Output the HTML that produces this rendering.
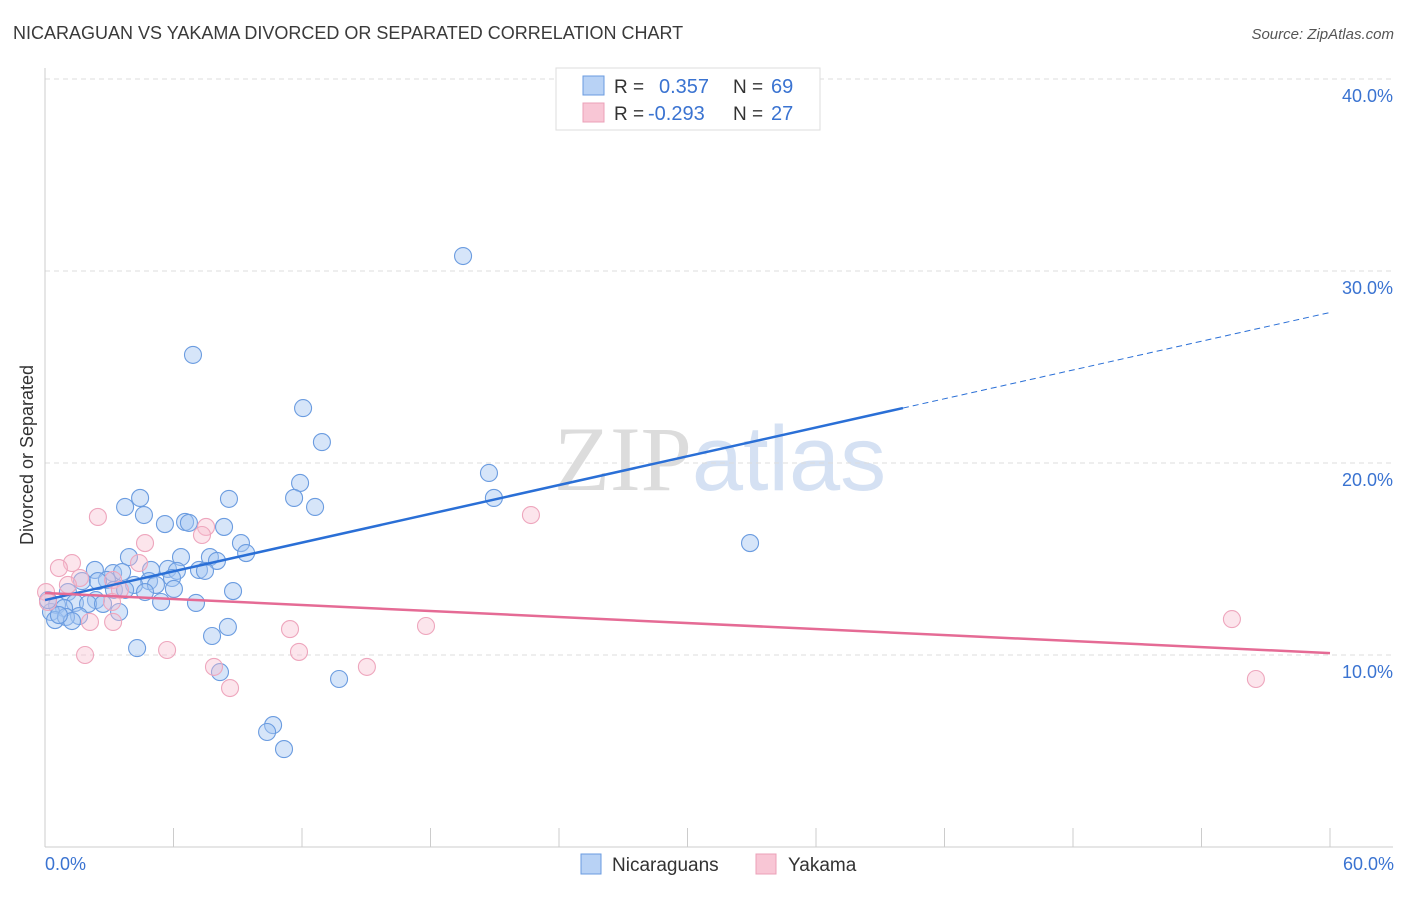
<!DOCTYPE html>
<html><head><meta charset="utf-8"><style>
body{margin:0;background:#fff;font-family:"Liberation Sans",sans-serif;}
svg text{font-family:"Liberation Sans",sans-serif;}
</style></head><body>
<svg id="chart" width="1406" height="892" xmlns="http://www.w3.org/2000/svg">
<text x="13" y="39" font-size="18" fill="#3a3a3a">NICARAGUAN VS YAKAMA DIVORCED OR SEPARATED CORRELATION CHART</text>
<text x="1394" y="39" font-size="15" fill="#555" text-anchor="end" font-style="italic">Source: ZipAtlas.com</text>
<text x="720" y="490" font-size="92" text-anchor="middle" fill="#e4e4e4"><tspan font-family="Liberation Serif" fill="#dcdcdc">ZIP</tspan><tspan fill="#d5e1f3">atlas</tspan></text>
<g id="grid"></g>
<g id="axes"></g>
<g id="pts"></g>
<g id="trend"></g>
<text transform="translate(33,455) rotate(-90)" font-size="18" fill="#333" text-anchor="middle">Divorced or Separated</text>
<text x="45" y="870" font-size="18" fill="#3a73d1">0.0%</text>
<text x="1394" y="870" font-size="18" fill="#3a73d1" text-anchor="end">60.0%</text>
<g>
<rect x="556" y="68" width="264" height="62" fill="#fff" stroke="#ddd"/>
<rect x="583" y="76" width="21" height="19" fill="#b8d2f5" stroke="#6a9be0"/>
<rect x="583" y="103" width="21" height="19" fill="#f8c6d5" stroke="#eba0b8"/>
<text x="614" y="93" font-size="19" fill="#333">R =</text>
<text x="659" y="93" font-size="20" fill="#3a73d1">0.357</text>
<text x="733" y="93" font-size="19" fill="#333">N =</text>
<text x="771" y="93" font-size="20" fill="#3a73d1">69</text>
<text x="614" y="120" font-size="19" fill="#333">R =</text>
<text x="648" y="120" font-size="20" fill="#3a73d1">-0.293</text>
<text x="733" y="120" font-size="19" fill="#333">N =</text>
<text x="771" y="120" font-size="20" fill="#3a73d1">27</text>
</g>
<g>
<rect x="581" y="854" width="20" height="20" fill="#b8d2f5" stroke="#6a9be0"/>
<text x="612" y="871" font-size="19" fill="#333">Nicaraguans</text>
<rect x="756" y="854" width="20" height="20" fill="#f8c6d5" stroke="#eba0b8"/>
<text x="788" y="871" font-size="19" fill="#333">Yakama</text>
</g>
</svg>
<script>
const blueX=[19.52,6.91,12.05,12.93,20.73,11.91,4.44,8.59,11.63,3.74,12.61,20.96,4.62,6.54,6.72,5.60,8.36,9.15,32.92,3.92,6.35,7.70,9.39,8.03,2.33,3.18,3.60,5.74,6.16,7.19,7.47,4.95,2.89,4.86,5.93,1.73,2.47,4.16,5.18,4.67,6.02,8.78,1.07,3.22,2.38,1.40,2.01,5.42,7.05,0.56,0.89,2.71,3.46,0.28,1.59,0.47,0.98,1.26,8.54,7.80,4.30,8.17,13.73,10.65,10.37,11.16,0.14,0.65,3.74];
const blueY=[30.78,25.63,22.86,21.09,19.48,18.96,18.18,18.13,18.18,17.71,17.71,18.18,17.29,16.93,16.88,16.82,16.67,15.83,15.83,15.10,15.10,15.10,15.31,14.90,14.43,14.27,14.32,14.48,14.38,14.43,14.38,14.43,13.91,13.85,14.01,13.85,13.85,13.65,13.65,13.28,13.44,13.33,13.28,13.39,12.86,12.71,12.66,12.76,12.71,12.60,12.45,12.66,12.24,12.24,12.03,11.82,11.98,11.77,11.46,10.99,10.36,9.11,8.75,6.35,5.99,5.10,12.86,12.08,13.39];
const pinkX=[2.47,7.52,7.33,22.69,4.67,1.26,0.65,4.39,1.63,1.07,0.05,3.18,3.50,0.14,3.13,2.10,3.18,11.44,17.79,11.86,1.87,5.70,7.89,15.03,8.64,55.42,56.54];
const pinkY=[17.19,16.67,16.25,17.29,15.83,14.79,14.53,14.79,14.01,13.65,13.28,13.91,13.39,12.76,12.76,11.72,11.72,11.35,11.51,10.16,10.00,10.26,9.38,9.38,8.28,11.87,8.75];
const yTicks=[10,20,30,40];
const yTickLabels=["10.0%","20.0%","30.0%","40.0%"];
const xTicks=[0,6,12,18,24,30,36,42,48,54,60];
const blueTrend=[12.86,27.84];
const blueSolidEnd=40.06;
const pinkTrend=[13.23,10.10];
const NS="http://www.w3.org/2000/svg";
const sx=v=>45+v*1285/60;
const sy=v=>847-v*19.2;
function mk(tag,attrs,parent){const e=document.createElementNS(NS,tag);for(const k in attrs)e.setAttribute(k,attrs[k]);document.getElementById(parent).appendChild(e);return e;}
yTicks.forEach((t,i)=>{
  const l=mk('line',{x1:45,x2:1393,y1:sy(t),y2:sy(t),stroke:'#ddd','stroke-dasharray':'5,4'},'grid');
  
  
  const tx=mk('text',{x:1393,y:sy(t)+23,'font-size':18,fill:'#3a73d1','text-anchor':'end'},'grid');
  tx.textContent=yTickLabels[i];
  
  
});
const ax=mk('line',{x1:45,x2:1393,y1:847,y2:847,stroke:'#ccc'},'axes');


const ay=mk('line',{x1:45,x2:45,y1:68,y2:847,stroke:'#ccc'},'axes');


xTicks.forEach(t=>{
  const l=mk('line',{x1:sx(t),x2:sx(t),y1:828,y2:847,stroke:'#ccc'},'axes');
  
  
});
blueX.forEach((x,i)=>{
  const c=mk('circle',{cx:sx(x),cy:sy(blueY[i]),r:8.5,fill:'rgba(165,198,242,0.45)',stroke:'#6b9ce0','stroke-width':1.1},'pts');
  
  
});
pinkX.forEach((x,i)=>{
  const c=mk('circle',{cx:sx(x),cy:sy(pinkY[i]),r:8.5,fill:'rgba(248,190,208,0.4)',stroke:'#eea6bd','stroke-width':1.1},'pts');
  
  
});
const by=x=>blueTrend[0]+(blueTrend[1]-blueTrend[0])*x/60;
const b1=mk('line',{x1:sx(0),y1:sy(by(0)),x2:sx(blueSolidEnd),y2:sy(by(blueSolidEnd)),stroke:'#2a6fd6','stroke-width':2.5},'trend');


const b2=mk('line',{x1:sx(blueSolidEnd),y1:sy(by(blueSolidEnd)),x2:sx(60),y2:sy(by(60)),stroke:'#2a6fd6','stroke-width':1,'stroke-dasharray':'6,4'},'trend');


const p1=mk('line',{x1:sx(0),y1:sy(pinkTrend[0]),x2:sx(60),y2:sy(pinkTrend[1]),stroke:'#e56b95','stroke-width':2.5},'trend');


</script>
</body></html>
